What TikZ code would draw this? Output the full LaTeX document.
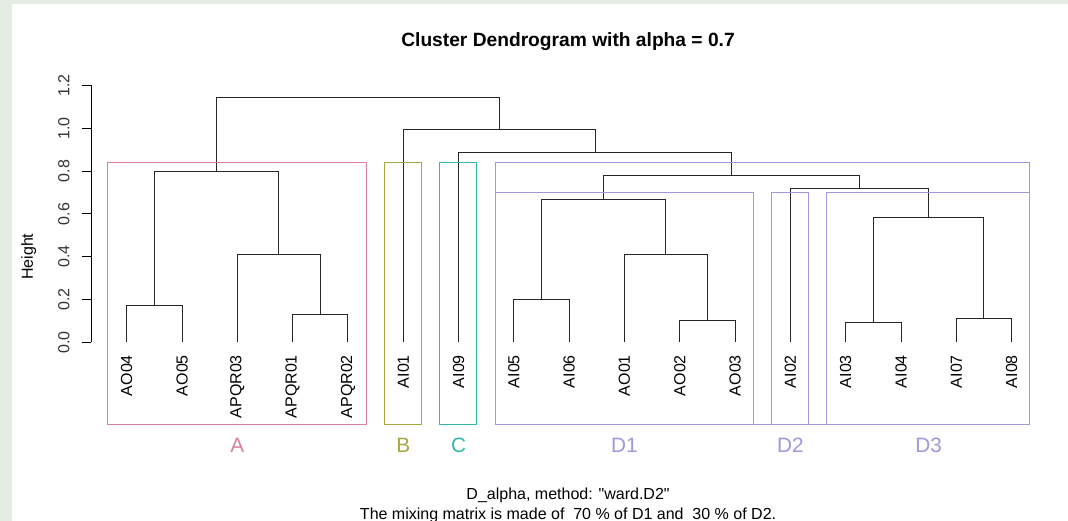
\documentclass[tikz,border=0pt]{standalone}
\usepackage{fontspec}
\setmainfont{Liberation Sans}[Ligatures=TeXOff]
\usepackage{tikz}
\definecolor{HCPink}{HTML}{D9819A}
\definecolor{HCOlive}{HTML}{A6A844}
\definecolor{HCTeal}{HTML}{30B8A8}
\definecolor{HCLilac}{HTML}{A098DE}
\definecolor{PanelBg}{HTML}{E3EDE3}
\definecolor{TreeLine}{HTML}{262626}

\tikzset{
  leaflabel/.style={rotate=90,anchor=east,inner sep=0pt,font=\fontsize{16}{18}\selectfont},
  ticklabel/.style={rotate=90,inner sep=0pt,font=\fontsize{16}{18}\selectfont,text=black!80},
  branch/.style={draw=TreeLine,line width=1pt},
  clusterbox/.style={line width=0.9pt},
  clustername/.style={inner sep=0pt,font=\fontsize{20.8}{24}\selectfont},
  plaintext/.style={anchor=base,inner sep=0pt,font=\fontsize{16}{18}\selectfont},
}

\begin{document}
\begin{tikzpicture}[x=55.31pt,y=214pt]
\path[use as bounding box] (-1.291,-0.835) rectangle (18.019,1.5995);
\fill[PanelBg] (-1.291,-0.835) rectangle (18.019,1.5995);
\fill[white] (-1.074,-0.835) rectangle (18.019,1.581);

% axis
\draw[black,line width=0.8pt] (0.354,0) -- (0.354,1.2);
\foreach \h/\t in {0/0.0,0.2/0.2,0.4/0.4,0.6/0.6,0.8/0.8,1/1.0,1.2/1.2}{
  \draw[black,line width=0.8pt] (0.354,\h) -- ++(-9pt,0);
  \node[ticklabel] (tick\t) at (-0.137,\h) {\t};
}
\node[ticklabel,text=black] (ylab) at (-0.770,0.400) {Height};

% leaves
\foreach \lab [count=\i] in {AO04,AO05,APQR03,APQR01,APQR02,AI01,AI09,AI05,AI06,AO01,AO02,AO03,AI02,AI03,AI04,AI07,AI08}{
  \coordinate (t\i) at (\i,0);
  \node[leaflabel] (n\i) at (\i,-0.059) {\lab};
}

% merges
\coordinate (aoA) at (1.5,0.174);
\coordinate (apq) at (4.5,0.132);
\coordinate (apq3) at (3.75,0.408);
\coordinate (cA) at (2.625,0.797);
\coordinate (d56) at (8.5,0.198);
\coordinate (d23) at (11.5,0.104);
\coordinate (d123) at (10.75,0.409);
\coordinate (cD1) at (9.625,0.668);
\coordinate (i34) at (14.5,0.093);
\coordinate (i78) at (16.5,0.112);
\coordinate (cD3) at (15.5,0.582);
\coordinate (cD23) at (14.25,0.720);
\coordinate (cD) at (11.9375,0.778);
\coordinate (cCD) at (9.46875,0.888);
\coordinate (cBCD) at (7.734,0.995);
\coordinate (root) at (5.18,1.143);

\draw[branch] (t1) |- (aoA) -| (t2);
\draw[branch] (t4) |- (apq) -| (t5);
\draw[branch] (t3) |- (apq3) -| (apq);
\draw[branch] (aoA) |- (cA) -| (apq3);
\draw[branch] (t8) |- (d56) -| (t9);
\draw[branch] (t11) |- (d23) -| (t12);
\draw[branch] (t10) |- (d123) -| (d23);
\draw[branch] (d56) |- (cD1) -| (d123);
\draw[branch] (t14) |- (i34) -| (t15);
\draw[branch] (t16) |- (i78) -| (t17);
\draw[branch] (i34) |- (cD3) -| (i78);
\draw[branch] (t13) |- (cD23) -| (cD3);
\draw[branch] (cD1) |- (cD) -| (cD23);
\draw[branch] (t7) |- (cCD) -| (cD);
\draw[branch] (t6) |- (cBCD) -| (cCD);
\draw[branch] (cA) |- (root) -| (cBCD);

% cluster boxes
\draw[HCPink,clusterbox] (0.66,-0.386) rectangle (5.33,0.839);
\draw[HCOlive,clusterbox] (5.66,-0.386) rectangle (6.33,0.839);
\draw[HCTeal,clusterbox] (6.66,-0.386) rectangle (7.33,0.839);
\draw[HCLilac,clusterbox] (7.66,-0.386) rectangle (17.33,0.839);
\draw[HCLilac,clusterbox] (7.66,-0.386) rectangle (12.33,0.698);
\draw[HCLilac,clusterbox] (12.66,-0.386) rectangle (13.33,0.698);
\draw[HCLilac,clusterbox] (13.66,-0.386) rectangle (17.33,0.698);

\node[clustername,text=HCPink] (kA) at (3,-0.480) {A};
\node[clustername,text=HCOlive] (kB) at (6,-0.480) {B};
\node[clustername,text=HCTeal] (kC) at (7,-0.480) {C};
\node[clustername,text=HCLilac] (kD1) at (10,-0.480) {D1};
\node[clustername,text=HCLilac] (kD2) at (13,-0.480) {D2};
\node[clustername,text=HCLilac] (kD3) at (15.5,-0.480) {D3};

% titles
\node[plaintext,font=\bfseries\fontsize{19.2}{22}\selectfont] (title) at (8.979,1.383) {Cluster Dendrogram with alpha = 0.7};
\node[plaintext] (sub1) at (8.98,-0.734) {D\_alpha, method: "ward.D2"};
\node[plaintext] (sub2) at (8.98,-0.826) {The mixing matrix is made of\ \ 70 \% of D1 and\ \ 30 \% of D2.};
\end{tikzpicture}
\end{document}
